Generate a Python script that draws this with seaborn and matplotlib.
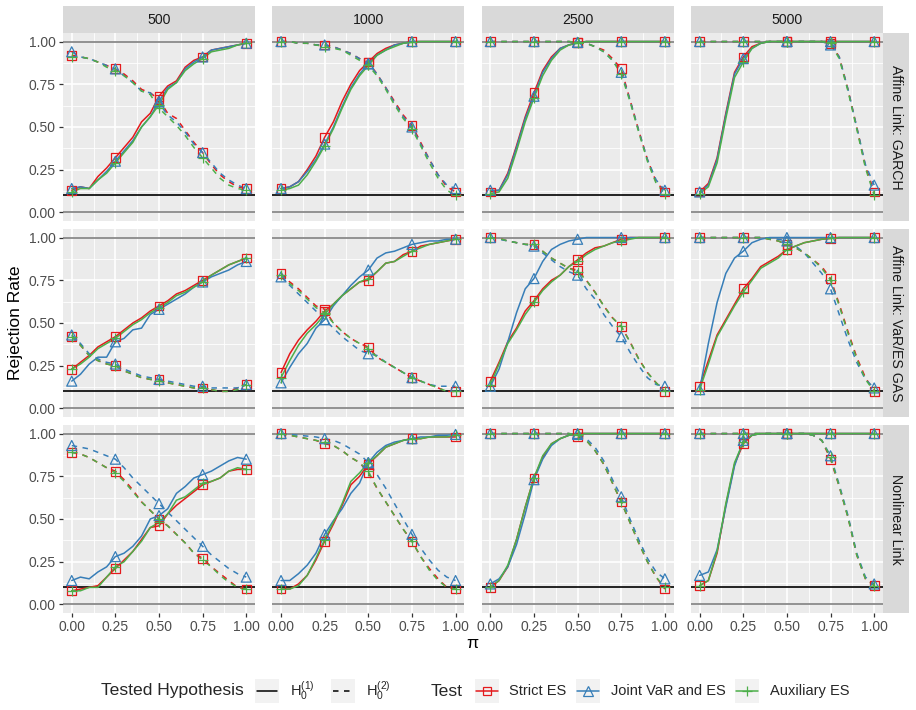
import numpy as np
import pandas as pd
import matplotlib
matplotlib.use("Agg")
import matplotlib.pyplot as plt
import seaborn as sns
from matplotlib.lines import Line2D
from matplotlib.ticker import FixedLocator

# ---------------- data ----------------
PI = [0.00, 0.05, 0.10, 0.15, 0.20, 0.25, 0.30, 0.35, 0.40, 0.45, 0.50,
      0.55, 0.60, 0.65, 0.70, 0.75, 0.80, 0.85, 0.90, 0.95, 1.00]
MARKER_PI = [0.00, 0.25, 0.50, 0.75, 1.00]
SAMPLE_SIZES = ["500", "1000", "2500", "5000"]
LINKS = ["Affine Link: GARCH", "Affine Link: VaR/ES GAS", "Nonlinear Link"]
TESTS = ["Strict ES", "Joint VaR and ES", "Auxiliary ES"]
HYPS = ["H1", "H2"]
X_TICKS = [0.00, 0.25, 0.50, 0.75, 1.00]
X_TICK_LABELS = ["0.00", "0.25", "0.50", "0.75", "1.00"]
Y_TICKS = [0.00, 0.25, 0.50, 0.75, 1.00]
Y_TICK_LABELS = ["0.00", "0.25", "0.50", "0.75", "1.00"]
REF_LEVEL = 0.10

# --- Affine Link: GARCH ---
garch_500_h1_strict = [0.13,0.15,0.14,0.21,0.26,0.32,0.38,0.44,0.53,0.58,0.68,0.74,0.77,0.85,0.89,0.91,0.95,0.96,0.97,0.98,0.99]
garch_500_h1_joint  = [0.14,0.15,0.14,0.19,0.24,0.30,0.36,0.42,0.50,0.56,0.65,0.73,0.76,0.84,0.88,0.91,0.95,0.96,0.97,0.98,0.99]
garch_500_h1_aux    = [0.12,0.14,0.14,0.19,0.23,0.29,0.35,0.41,0.50,0.56,0.63,0.72,0.76,0.83,0.87,0.90,0.94,0.95,0.96,0.98,0.99]
garch_500_h2_strict = [0.92,0.91,0.90,0.88,0.86,0.84,0.81,0.77,0.72,0.70,0.66,0.58,0.55,0.48,0.41,0.35,0.28,0.22,0.18,0.15,0.14]
garch_500_h2_joint  = [0.94,0.91,0.90,0.88,0.86,0.84,0.80,0.76,0.71,0.70,0.64,0.57,0.53,0.47,0.40,0.35,0.29,0.23,0.19,0.16,0.14]
garch_500_h2_aux    = [0.91,0.91,0.90,0.88,0.85,0.83,0.80,0.76,0.71,0.69,0.61,0.56,0.51,0.45,0.38,0.32,0.26,0.20,0.16,0.14,0.13]

garch_1000_h1_strict = [0.14,0.15,0.18,0.25,0.33,0.44,0.53,0.65,0.75,0.83,0.88,0.93,0.96,0.98,0.99,1.00,1.00,1.00,1.00,1.00,1.00]
garch_1000_h1_joint  = [0.14,0.15,0.18,0.24,0.31,0.40,0.50,0.62,0.73,0.81,0.87,0.92,0.95,0.98,0.99,1.00,1.00,1.00,1.00,1.00,1.00]
garch_1000_h1_aux    = [0.13,0.14,0.16,0.22,0.30,0.39,0.49,0.61,0.72,0.80,0.86,0.92,0.95,0.97,0.99,0.995,1.00,1.00,1.00,1.00,1.00]
garch_1000_h2_strict = [1.00,1.00,0.99,0.99,0.98,0.98,0.97,0.95,0.93,0.90,0.88,0.81,0.73,0.65,0.57,0.51,0.41,0.31,0.22,0.15,0.12]
garch_1000_h2_joint  = [1.00,1.00,0.99,0.99,0.98,0.98,0.97,0.95,0.93,0.90,0.87,0.81,0.73,0.64,0.56,0.50,0.40,0.31,0.22,0.16,0.14]
garch_1000_h2_aux    = [1.00,1.00,0.99,0.99,0.98,0.97,0.96,0.95,0.92,0.89,0.86,0.80,0.72,0.63,0.55,0.49,0.39,0.29,0.20,0.13,0.10]

garch_2500_h1_strict = [0.12,0.13,0.23,0.39,0.56,0.70,0.83,0.91,0.96,0.98,0.995,1.00,1.00,1.00,1.00,1.00,1.00,1.00,1.00,1.00,1.00]
garch_2500_h1_joint  = [0.13,0.13,0.22,0.38,0.55,0.68,0.82,0.90,0.96,0.98,0.995,1.00,1.00,1.00,1.00,1.00,1.00,1.00,1.00,1.00,1.00]
garch_2500_h1_aux    = [0.11,0.12,0.20,0.36,0.53,0.67,0.80,0.89,0.95,0.98,0.99,1.00,1.00,1.00,1.00,1.00,1.00,1.00,1.00,1.00,1.00]
garch_2500_h2_strict = [1.00,1.00,1.00,1.00,1.00,1.00,1.00,1.00,1.00,1.00,0.995,0.99,0.97,0.95,0.90,0.84,0.66,0.48,0.31,0.18,0.12]
garch_2500_h2_joint  = [1.00,1.00,1.00,1.00,1.00,1.00,1.00,1.00,1.00,1.00,0.995,0.99,0.97,0.94,0.89,0.82,0.66,0.48,0.31,0.19,0.13]
garch_2500_h2_aux    = [1.00,1.00,1.00,1.00,1.00,1.00,1.00,1.00,1.00,1.00,0.995,0.99,0.97,0.94,0.89,0.81,0.65,0.47,0.30,0.17,0.11]

garch_5000_h1_strict = [0.12,0.17,0.32,0.58,0.82,0.91,0.97,0.99,1.00,1.00,1.00,1.00,1.00,1.00,1.00,1.00,1.00,1.00,1.00,1.00,1.00]
garch_5000_h1_joint  = [0.12,0.16,0.31,0.57,0.81,0.90,0.96,0.99,1.00,1.00,1.00,1.00,1.00,1.00,1.00,1.00,1.00,1.00,1.00,1.00,1.00]
garch_5000_h1_aux    = [0.11,0.15,0.29,0.55,0.79,0.88,0.96,0.99,1.00,1.00,1.00,1.00,1.00,1.00,1.00,1.00,1.00,1.00,1.00,1.00,1.00]
garch_5000_h2_strict = [1.00,1.00,1.00,1.00,1.00,1.00,1.00,1.00,1.00,1.00,1.00,1.00,1.00,1.00,1.00,0.99,0.91,0.72,0.50,0.27,0.12]
garch_5000_h2_joint  = [1.00,1.00,1.00,1.00,1.00,1.00,1.00,1.00,1.00,1.00,1.00,1.00,1.00,1.00,1.00,0.98,0.91,0.72,0.50,0.28,0.16]
garch_5000_h2_aux    = [1.00,1.00,1.00,1.00,1.00,1.00,1.00,1.00,1.00,1.00,1.00,1.00,1.00,1.00,1.00,0.99,0.90,0.71,0.49,0.26,0.10]

# --- Affine Link: VaR/ES GAS ---
gas_500_h1_strict = [0.23,0.27,0.31,0.36,0.39,0.42,0.46,0.50,0.53,0.57,0.60,0.63,0.67,0.69,0.72,0.75,0.78,0.81,0.84,0.86,0.88]
gas_500_h1_joint  = [0.16,0.20,0.26,0.30,0.30,0.39,0.41,0.46,0.47,0.55,0.58,0.61,0.64,0.67,0.71,0.74,0.77,0.79,0.81,0.84,0.86]
gas_500_h1_aux    = [0.23,0.26,0.30,0.35,0.38,0.41,0.45,0.49,0.52,0.56,0.59,0.62,0.66,0.68,0.71,0.74,0.78,0.81,0.84,0.86,0.88]
gas_500_h2_strict = [0.42,0.37,0.31,0.28,0.26,0.25,0.22,0.20,0.18,0.17,0.17,0.15,0.14,0.13,0.12,0.12,0.11,0.10,0.10,0.12,0.14]
gas_500_h2_joint  = [0.43,0.38,0.32,0.29,0.27,0.26,0.23,0.21,0.19,0.18,0.17,0.16,0.15,0.14,0.13,0.13,0.12,0.12,0.12,0.12,0.14]
gas_500_h2_aux    = [0.42,0.37,0.31,0.28,0.26,0.25,0.22,0.20,0.18,0.17,0.16,0.15,0.14,0.13,0.12,0.12,0.11,0.10,0.10,0.11,0.14]

gas_1000_h1_strict = [0.21,0.32,0.40,0.46,0.51,0.57,0.61,0.66,0.70,0.74,0.75,0.80,0.85,0.86,0.90,0.92,0.95,0.96,0.97,0.98,0.99]
gas_1000_h1_joint  = [0.15,0.24,0.32,0.38,0.47,0.52,0.60,0.66,0.72,0.77,0.81,0.88,0.91,0.92,0.94,0.96,0.97,0.98,0.98,0.99,0.99]
gas_1000_h1_aux    = [0.18,0.28,0.37,0.44,0.49,0.55,0.61,0.66,0.70,0.74,0.76,0.80,0.85,0.86,0.89,0.92,0.94,0.96,0.97,0.98,0.99]
gas_1000_h2_strict = [0.79,0.74,0.70,0.65,0.60,0.58,0.50,0.45,0.41,0.38,0.36,0.30,0.27,0.24,0.21,0.18,0.16,0.14,0.12,0.10,0.10]
gas_1000_h2_joint  = [0.77,0.72,0.67,0.62,0.57,0.52,0.47,0.42,0.38,0.34,0.32,0.31,0.27,0.24,0.21,0.18,0.16,0.14,0.13,0.13,0.13]
gas_1000_h2_aux    = [0.78,0.73,0.69,0.64,0.59,0.56,0.50,0.45,0.41,0.38,0.35,0.30,0.27,0.24,0.21,0.18,0.16,0.14,0.12,0.10,0.10]

gas_2500_h1_strict = [0.16,0.27,0.39,0.47,0.57,0.63,0.70,0.75,0.78,0.83,0.87,0.91,0.94,0.95,0.97,0.99,1.00,1.00,1.00,1.00,1.00]
gas_2500_h1_joint  = [0.13,0.23,0.39,0.56,0.70,0.76,0.86,0.93,0.96,0.98,0.99,1.00,1.00,1.00,1.00,1.00,1.00,1.00,1.00,1.00,1.00]
gas_2500_h1_aux    = [0.14,0.26,0.38,0.46,0.55,0.62,0.69,0.74,0.78,0.83,0.86,0.90,0.93,0.95,0.97,0.98,0.99,1.00,1.00,1.00,1.00]
gas_2500_h2_strict = [1.00,0.995,0.98,0.97,0.96,0.96,0.92,0.88,0.85,0.82,0.81,0.75,0.68,0.60,0.53,0.48,0.39,0.29,0.21,0.15,0.10]
gas_2500_h2_joint  = [1.00,0.99,0.98,0.97,0.96,0.95,0.91,0.87,0.83,0.80,0.78,0.70,0.64,0.55,0.48,0.42,0.33,0.25,0.18,0.14,0.13]
gas_2500_h2_aux    = [1.00,0.995,0.98,0.97,0.96,0.96,0.92,0.88,0.85,0.82,0.80,0.75,0.68,0.60,0.53,0.48,0.39,0.29,0.21,0.15,0.10]

gas_5000_h1_strict = [0.13,0.28,0.43,0.52,0.61,0.70,0.76,0.83,0.86,0.89,0.93,0.95,0.97,0.98,0.99,0.995,1.00,1.00,1.00,1.00,1.00]
gas_5000_h1_joint  = [0.11,0.38,0.62,0.79,0.88,0.92,0.97,0.99,1.00,1.00,1.00,1.00,1.00,1.00,1.00,1.00,1.00,1.00,1.00,1.00,1.00]
gas_5000_h1_aux    = [0.11,0.26,0.42,0.51,0.60,0.68,0.75,0.82,0.85,0.88,0.93,0.95,0.97,0.98,0.99,0.995,1.00,1.00,1.00,1.00,1.00]
gas_5000_h2_strict = [1.00,1.00,1.00,1.00,1.00,1.00,1.00,1.00,0.99,0.98,0.96,0.94,0.91,0.87,0.83,0.76,0.61,0.45,0.30,0.18,0.10]
gas_5000_h2_joint  = [1.00,1.00,1.00,1.00,1.00,1.00,1.00,1.00,0.995,0.99,0.98,0.95,0.91,0.85,0.79,0.70,0.55,0.40,0.27,0.17,0.12]
gas_5000_h2_aux    = [1.00,1.00,1.00,1.00,1.00,1.00,1.00,1.00,0.99,0.98,0.96,0.94,0.91,0.87,0.82,0.75,0.60,0.44,0.29,0.17,0.10]

# --- Nonlinear Link ---
nl_500_h1_strict = [0.08,0.09,0.10,0.11,0.16,0.21,0.26,0.31,0.38,0.45,0.46,0.53,0.58,0.62,0.66,0.70,0.72,0.74,0.78,0.79,0.79]
nl_500_h1_joint  = [0.14,0.16,0.15,0.19,0.22,0.28,0.30,0.34,0.40,0.50,0.52,0.56,0.65,0.69,0.74,0.76,0.78,0.81,0.84,0.86,0.85]
nl_500_h1_aux    = [0.08,0.08,0.10,0.10,0.16,0.22,0.25,0.31,0.37,0.45,0.48,0.53,0.61,0.63,0.67,0.71,0.72,0.74,0.78,0.80,0.79]
nl_500_h2_strict = [0.89,0.88,0.86,0.83,0.80,0.78,0.73,0.67,0.60,0.55,0.50,0.46,0.41,0.36,0.30,0.27,0.22,0.18,0.14,0.10,0.09]
nl_500_h2_joint  = [0.93,0.92,0.91,0.89,0.87,0.85,0.80,0.74,0.69,0.64,0.59,0.54,0.49,0.44,0.39,0.34,0.29,0.25,0.21,0.18,0.16]
nl_500_h2_aux    = [0.89,0.88,0.86,0.83,0.80,0.77,0.72,0.66,0.60,0.55,0.50,0.46,0.41,0.36,0.30,0.26,0.22,0.17,0.13,0.10,0.09]

nl_1000_h1_strict = [0.09,0.09,0.12,0.17,0.26,0.37,0.47,0.58,0.70,0.75,0.82,0.87,0.92,0.94,0.96,0.97,0.97,0.98,0.98,0.98,0.98]
nl_1000_h1_joint  = [0.14,0.14,0.18,0.23,0.30,0.41,0.49,0.56,0.65,0.71,0.83,0.89,0.93,0.95,0.96,0.97,0.98,0.98,0.99,0.99,0.995]
nl_1000_h1_aux    = [0.09,0.09,0.11,0.17,0.27,0.38,0.48,0.59,0.72,0.77,0.83,0.87,0.92,0.94,0.96,0.97,0.97,0.98,0.98,0.98,0.99]
nl_1000_h2_strict = [1.00,0.99,0.98,0.97,0.96,0.94,0.93,0.90,0.86,0.83,0.77,0.68,0.60,0.52,0.44,0.37,0.28,0.21,0.15,0.10,0.09]
nl_1000_h2_joint  = [1.00,0.995,0.99,0.985,0.98,0.97,0.96,0.94,0.91,0.88,0.83,0.76,0.68,0.59,0.50,0.41,0.33,0.26,0.20,0.16,0.14]
nl_1000_h2_aux    = [1.00,0.99,0.98,0.97,0.96,0.95,0.93,0.90,0.86,0.83,0.78,0.68,0.60,0.52,0.44,0.37,0.28,0.20,0.14,0.10,0.09]

nl_2500_h1_strict = [0.10,0.14,0.22,0.38,0.57,0.74,0.86,0.94,0.97,0.99,1.00,1.00,1.00,1.00,1.00,1.00,1.00,1.00,1.00,1.00,1.00]
nl_2500_h1_joint  = [0.12,0.15,0.22,0.35,0.53,0.73,0.85,0.93,0.97,0.99,1.00,1.00,1.00,1.00,1.00,1.00,1.00,1.00,1.00,1.00,1.00]
nl_2500_h1_aux    = [0.10,0.14,0.23,0.38,0.57,0.74,0.87,0.94,0.97,0.99,1.00,1.00,1.00,1.00,1.00,1.00,1.00,1.00,1.00,1.00,1.00]
nl_2500_h2_strict = [1.00,1.00,1.00,1.00,1.00,1.00,1.00,1.00,1.00,1.00,0.98,0.96,0.90,0.82,0.71,0.60,0.48,0.36,0.25,0.16,0.09]
nl_2500_h2_joint  = [1.00,1.00,1.00,1.00,1.00,1.00,1.00,1.00,1.00,1.00,0.995,0.97,0.92,0.84,0.73,0.63,0.50,0.38,0.27,0.19,0.15]
nl_2500_h2_aux    = [1.00,1.00,1.00,1.00,1.00,1.00,1.00,1.00,1.00,1.00,0.99,0.96,0.90,0.82,0.71,0.60,0.48,0.36,0.25,0.16,0.10]

nl_5000_h1_strict = [0.11,0.14,0.30,0.58,0.82,0.94,0.99,1.00,1.00,1.00,1.00,1.00,1.00,1.00,1.00,1.00,1.00,1.00,1.00,1.00,1.00]
nl_5000_h1_joint  = [0.17,0.19,0.32,0.57,0.81,0.96,0.99,1.00,1.00,1.00,1.00,1.00,1.00,1.00,1.00,1.00,1.00,1.00,1.00,1.00,1.00]
nl_5000_h1_aux    = [0.11,0.14,0.31,0.59,0.83,0.95,0.99,1.00,1.00,1.00,1.00,1.00,1.00,1.00,1.00,1.00,1.00,1.00,1.00,1.00,1.00]
nl_5000_h2_strict = [1.00,1.00,1.00,1.00,1.00,1.00,1.00,1.00,1.00,1.00,1.00,1.00,1.00,0.99,0.96,0.85,0.69,0.51,0.29,0.15,0.11]
nl_5000_h2_joint  = [1.00,1.00,1.00,1.00,1.00,1.00,1.00,1.00,1.00,1.00,1.00,1.00,1.00,0.99,0.96,0.87,0.70,0.52,0.30,0.16,0.12]
nl_5000_h2_aux    = [1.00,1.00,1.00,1.00,1.00,1.00,1.00,1.00,1.00,1.00,1.00,1.00,1.00,0.99,0.96,0.86,0.69,0.51,0.29,0.15,0.11]

SERIES = {
    LINKS[0]: {
        "500":  [garch_500_h1_strict, garch_500_h1_joint, garch_500_h1_aux, garch_500_h2_strict, garch_500_h2_joint, garch_500_h2_aux],
        "1000": [garch_1000_h1_strict, garch_1000_h1_joint, garch_1000_h1_aux, garch_1000_h2_strict, garch_1000_h2_joint, garch_1000_h2_aux],
        "2500": [garch_2500_h1_strict, garch_2500_h1_joint, garch_2500_h1_aux, garch_2500_h2_strict, garch_2500_h2_joint, garch_2500_h2_aux],
        "5000": [garch_5000_h1_strict, garch_5000_h1_joint, garch_5000_h1_aux, garch_5000_h2_strict, garch_5000_h2_joint, garch_5000_h2_aux],
    },
    LINKS[1]: {
        "500":  [gas_500_h1_strict, gas_500_h1_joint, gas_500_h1_aux, gas_500_h2_strict, gas_500_h2_joint, gas_500_h2_aux],
        "1000": [gas_1000_h1_strict, gas_1000_h1_joint, gas_1000_h1_aux, gas_1000_h2_strict, gas_1000_h2_joint, gas_1000_h2_aux],
        "2500": [gas_2500_h1_strict, gas_2500_h1_joint, gas_2500_h1_aux, gas_2500_h2_strict, gas_2500_h2_joint, gas_2500_h2_aux],
        "5000": [gas_5000_h1_strict, gas_5000_h1_joint, gas_5000_h1_aux, gas_5000_h2_strict, gas_5000_h2_joint, gas_5000_h2_aux],
    },
    LINKS[2]: {
        "500":  [nl_500_h1_strict, nl_500_h1_joint, nl_500_h1_aux, nl_500_h2_strict, nl_500_h2_joint, nl_500_h2_aux],
        "1000": [nl_1000_h1_strict, nl_1000_h1_joint, nl_1000_h1_aux, nl_1000_h2_strict, nl_1000_h2_joint, nl_1000_h2_aux],
        "2500": [nl_2500_h1_strict, nl_2500_h1_joint, nl_2500_h1_aux, nl_2500_h2_strict, nl_2500_h2_joint, nl_2500_h2_aux],
        "5000": [nl_5000_h1_strict, nl_5000_h1_joint, nl_5000_h1_aux, nl_5000_h2_strict, nl_5000_h2_joint, nl_5000_h2_aux],
    },
}

rows = []
for link in LINKS:
    for n in SAMPLE_SIZES:
        lists = SERIES[link][n]
        k = 0
        for hyp in HYPS:
            for test in TESTS:
                for p, v in zip(PI, lists[k]):
                    rows.append((link, n, hyp, test, p, v))
                k += 1
df = pd.DataFrame(rows, columns=["link", "n", "hyp", "test", "pi", "rate"])

# ---------------- style ----------------
sns.set_theme(style="white")
plt.rcParams["font.family"] = ["Liberation Sans", "DejaVu Sans"]
plt.rcParams["mathtext.fontset"] = "custom"
plt.rcParams["mathtext.rm"] = "Liberation Sans"

PALETTE = {"Strict ES": "#E41A1C", "Joint VaR and ES": "#377EB8", "Auxiliary ES": "#4DAF4A"}
MARKERS = {"Strict ES": "s", "Joint VaR and ES": "^", "Auxiliary ES": "+"}
MSIZE = {"Strict ES": 40, "Joint VaR and ES": 52, "Auxiliary ES": 60}
DASHES = {"H1": "", "H2": (3.6, 3.6)}
PANEL_BG = "#EBEBEB"
STRIP_BG = "#D9D9D9"
TICK_COL = "#4D4D4D"
LW = 1.1

W, H = 916, 710
fig = plt.figure(figsize=(W / 100, H / 100), dpi=100)

def fx(px):
    return px / W

def fy(py):
    return 1 - py / H

panel_left = [63.0, 272.3, 481.6, 690.9]
panel_w = 192.0
panel_top = [33.0, 229.0, 425.0]
panel_h = 188.0

for r, link in enumerate(LINKS):
    for c, n in enumerate(SAMPLE_SIZES):
        l = panel_left[c]
        t = panel_top[r]
        ax = fig.add_axes([fx(l), fy(t + panel_h), panel_w / W, panel_h / H])
        ax.set_facecolor(PANEL_BG)
        for s in ax.spines.values():
            s.set_visible(False)
        ax.set_xlim(-0.05, 1.05)
        ax.set_ylim(-0.05, 1.05)
        ax.xaxis.set_major_locator(FixedLocator(X_TICKS))
        ax.yaxis.set_major_locator(FixedLocator(Y_TICKS))
        ax.xaxis.set_minor_locator(FixedLocator([0.125, 0.375, 0.625, 0.875]))
        ax.yaxis.set_minor_locator(FixedLocator([0.125, 0.375, 0.625, 0.875]))
        ax.grid(True, which="major", color="white", lw=1.2, zorder=0)
        ax.grid(True, which="minor", color="white", lw=0.6, zorder=0)
        ax.set_axisbelow(True)

        ax.axhline(0.0, color="#7F7F7F", lw=1.2, zorder=1.5)
        ax.axhline(1.0, color="#7F7F7F", lw=1.2, zorder=1.5)
        ax.axhline(REF_LEVEL, color="black", lw=1.2, zorder=1.6)

        sub = df[(df.link == link) & (df.n == n)]
        sns.lineplot(data=sub, x="pi", y="rate", hue="test", style="hyp",
                     hue_order=TESTS, style_order=HYPS, palette=PALETTE,
                     dashes=DASHES, lw=LW, legend=False, errorbar=None,
                     ax=ax, zorder=2)
        msub = sub[sub.pi.isin(MARKER_PI)]
        for test in TESTS:
            col = PALETTE[test]
            sns.scatterplot(data=msub[msub.test == test], x="pi", y="rate",
                            marker=MARKERS[test], s=MSIZE[test], color=col,
                            linewidth=0.9, legend=False, ax=ax, zorder=3)
            coll = ax.collections[-1]
            coll.set_facecolor("none" if MARKERS[test] != "+" else col)
            coll.set_edgecolor(col)
            coll.set_linewidth(0.9)

        ax.set_xlabel("")
        ax.set_ylabel("")
        ax.tick_params(which="minor", length=0)
        if c == 0:
            ax.set_yticklabels(Y_TICK_LABELS)
            ax.tick_params(axis="y", which="major", length=3.2, width=0.9,
                           color="#333333", labelcolor=TICK_COL, labelsize=10, pad=2,
                           left=True)
        else:
            ax.tick_params(axis="y", which="major", left=False, labelleft=False)
        if r == len(LINKS) - 1:
            ax.set_xticklabels(X_TICK_LABELS)
            ax.tick_params(axis="x", which="major", length=3.2, width=0.9,
                           color="#333333", labelcolor=TICK_COL, labelsize=10, pad=2,
                           bottom=True)
        else:
            ax.tick_params(axis="x", which="major", bottom=False, labelbottom=False)

        # top strips
        if r == 0:
            sax = fig.add_axes([fx(l), fy(33.0), panel_w / W, 27.0 / H])
            sax.set_facecolor(STRIP_BG)
            sax.set_xticks([]); sax.set_yticks([])
            for s in sax.spines.values():
                s.set_visible(False)
            sax.text(0.5, 0.5, n, ha="center", va="center", fontsize=10.2,
                     color="#1A1A1A", transform=sax.transAxes)
        # right strips
        if c == len(SAMPLE_SIZES) - 1:
            rax = fig.add_axes([fx(l + panel_w), fy(t + panel_h), 26.0 / W, panel_h / H])
            rax.set_facecolor(STRIP_BG)
            rax.set_xticks([]); rax.set_yticks([])
            for s in rax.spines.values():
                s.set_visible(False)
            rax.text(0.5, 0.5, link, ha="center", va="center", fontsize=10.2,
                     rotation=-90, color="#1A1A1A", transform=rax.transAxes)

# axis titles
fig.text(fx(472.5), fy(643), "π", ha="center", va="center", fontsize=12.6, color="black")
fig.text(fx(16), fy(323), "Rejection Rate", ha="center", va="center", rotation=90,
         fontsize=12.6, color="black")

# ---------------- legend ----------------
LEG_Y = 691.0
KEY = 24.0

def key_axes(x0):
    kax = fig.add_axes([fx(x0), fy(LEG_Y + KEY / 2), KEY / W, KEY / H])
    kax.set_facecolor("#F2F2F2")
    kax.set_xlim(0, 1); kax.set_ylim(0, 1)
    kax.set_xticks([]); kax.set_yticks([])
    for s in kax.spines.values():
        s.set_visible(False)
    return kax

fig.text(fx(101), fy(LEG_Y), "Tested Hypothesis", ha="left", va="center", fontsize=12.6)
k1 = key_axes(255)
k1.add_line(Line2D([0.08, 0.92], [0.5, 0.5], color="black", lw=LW))
fig.text(fx(290), fy(LEG_Y), r"$\mathregular{H_0^{(1)}}$", ha="left", va="center", fontsize=10.5)
k2 = key_axes(331)
k2.add_line(Line2D([0.08, 0.92], [0.5, 0.5], color="black", lw=LW, dashes=DASHES["H2"]))
fig.text(fx(366), fy(LEG_Y), r"$\mathregular{H_0^{(2)}}$", ha="left", va="center", fontsize=10.5)

fig.text(fx(431), fy(LEG_Y), "Test", ha="left", va="center", fontsize=12.6)
MS_LEG = {"Strict ES": 6.3, "Joint VaR and ES": 7.2, "Auxiliary ES": 7.7}
for x0, xt, test in [(475, 509, "Strict ES"), (576, 611, "Joint VaR and ES"), (735, 770, "Auxiliary ES")]:
    kk = key_axes(x0)
    col = PALETTE[test]
    kk.add_line(Line2D([0.05, 0.95], [0.5, 0.5], color=col, lw=LW))
    kk.add_line(Line2D([0.5], [0.5], color=col, lw=0, marker=MARKERS[test],
                       markersize=MS_LEG[test], markerfacecolor="none",
                       markeredgecolor=col, markeredgewidth=0.9))
    fig.text(fx(xt), fy(LEG_Y), test, ha="left", va="center", fontsize=10.5)

fig.savefig("out.png", dpi=100, facecolor="white")
